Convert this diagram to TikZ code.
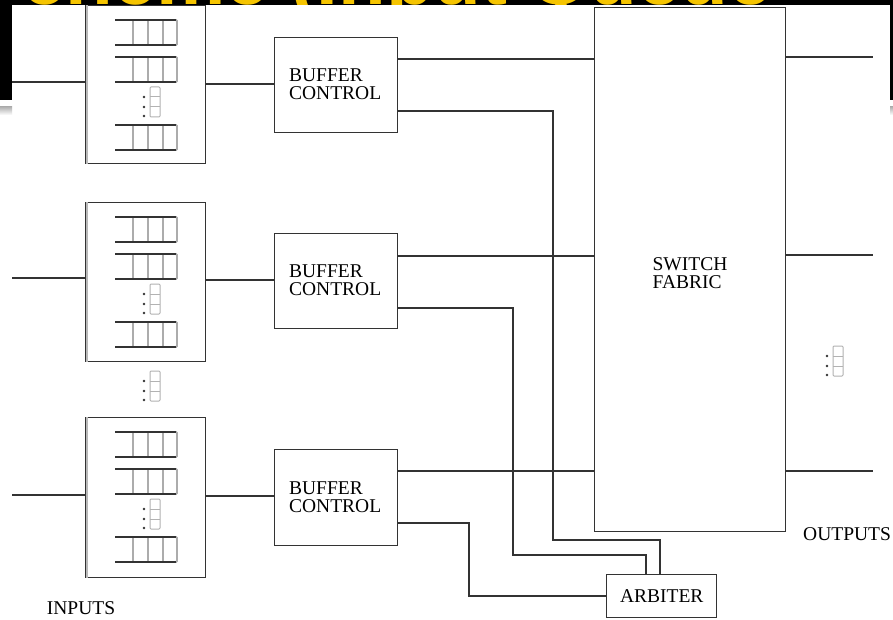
\documentclass[tikz,border=0pt]{standalone}
\usepackage{fontspec}
\setmainfont{Liberation Serif}
\newfontfamily\titlefont{Liberation Sans}
\begin{document}
\begin{tikzpicture}[x=1pt,y=-1pt,
  ln/.style={line width=1.4pt, draw=black!80},
  box/.style={draw=black!80, line width=1.4pt, fill=white, rectangle, inner sep=0pt, anchor=north west},
  lbl/.style={font=\fontsize{19.5}{18}\selectfont, align=left, inner sep=0pt},
  queue/.pic={
    \draw[gray!65, line width=1.8pt] (18,0)--(18,25) (33,0)--(33,25) (48,0)--(48,25);
    \draw[gray!65, line width=1.8pt, rounded corners=1pt] (60,0)--(62,0)--(62,25)--(60,25);
    \draw[black!80, line width=1.4pt] (0,0)--(61,0) (0,25)--(61,25);
  },
  miniq/.pic={
    \draw[gray!60, line width=1pt, rounded corners=1pt] (0,0) rectangle (10,30);
    \draw[gray!60, line width=1pt] (0,10)--(10,10) (0,20)--(10,20);
    \fill[black!80] (-6,10) circle (1.4) (-6,20) circle (1.4) (-6,29) circle (1.4);
  }]
\useasboundingbox (0,0) rectangle (893,620);
\fill[white] (0,0) rectangle (893,620);

% queue boxes
\node[box, minimum width=120pt, minimum height=158pt] (qb1) at (85,5) {};
\node[box, minimum width=120pt, minimum height=159pt] (qb2) at (85,202) {};
\node[box, minimum width=120pt, minimum height=160pt] (qb3) at (85,417) {};
\foreach \b in {qb1,qb2,qb3}{
  \draw[gray!55, line width=2.2pt] ([xshift=2pt]\b.north west) -- ([xshift=2pt]\b.south west);
}
\foreach \t in {5,202,417}{
  \pic at (115,\t+15) {queue};
  \pic at (115,\t+52) {queue};
  \pic at (150,\t+82) {miniq};
  \pic at (115,\t+120) {queue};
}
\pic at (150,371) {miniq};
\pic at (833,346) {miniq};

% buffer controls
\node[box, minimum width=123pt, minimum height=95pt] (bc1) at (274,37) {};
\node[box, minimum width=123pt, minimum height=95pt] (bc2) at (274,233) {};
\node[box, minimum width=123pt, minimum height=96pt] (bc3) at (274,449) {};
\foreach \b in {bc1,bc2,bc3}{
  \node[lbl] at ([xshift=-1pt,yshift=0.5pt]\b.center) {BUFFER\\CONTROL};
}

% switch fabric
\node[box, minimum width=191pt, minimum height=524pt] (fab) at (594,7) {};
\node[lbl] (fabl) at (690,273) {SWITCH\\FABRIC};

% arbiter
\node[box, minimum width=110pt, minimum height=43pt] (arb) at (606,574) {};
\node[lbl] (arbl) at (arb.center) {ARBITER};

% input lines
\coordinate (i1) at (12,82);
\coordinate (i2) at (12,278);
\coordinate (i3) at (12,495);
\draw[ln] (i1) -- (i1 -| qb1.west);
\draw[ln] (i2) -- (i2 -| qb2.west);
\draw[ln] (i3) -- (i3 -| qb3.west);

% queue boxes to buffer control
\coordinate (q1) at (205,84);
\coordinate (q2) at (205,280);
\coordinate (q3) at (205,496);
\draw[ln] (q1 -| qb1.east) -- (q1 -| bc1.west);
\draw[ln] (q2 -| qb2.east) -- (q2 -| bc2.west);
\draw[ln] (q3 -| qb3.east) -- (q3 -| bc3.west);

% buffer control to fabric
\coordinate (u1) at (400,59);
\coordinate (u2) at (400,256);
\coordinate (u3) at (400,471);
\draw[ln] (u1 -| bc1.east) -- (u1 -| fab.west);
\draw[ln] (u2 -| bc2.east) -- (u2 -| fab.west);
\draw[ln] (u3 -| bc3.east) -- (u3 -| fab.west);

% buffer control to arbiter
\coordinate (a1) at (553,111);
\coordinate (a1b) at (660,540);
\draw[ln] (a1 -| bc1.east) -- (a1) -- (a1 |- a1b) -- (a1b) -- (a1b |- arb.north);
\coordinate (a2) at (513,308);
\coordinate (a2b) at (646,555);
\draw[ln] (a2 -| bc2.east) -- (a2) -- (a2 |- a2b) -- (a2b) -- (a2b |- arb.north);
\coordinate (a3) at (469,523);
\coordinate (a3b) at (469,596);
\draw[ln] (a3 -| bc3.east) -- (a3) -- (a3b) -- (a3b -| arb.west);

% outputs
\coordinate (o1) at (873,57);
\coordinate (o2) at (873,255);
\coordinate (o3) at (873,471);
\draw[ln] (o1 -| fab.east) -- (o1);
\draw[ln] (o2 -| fab.east) -- (o2);
\draw[ln] (o3 -| fab.east) -- (o3);

% labels
\node[lbl, anchor=center] (inl) at (81,608) {INPUTS};
\node[lbl, anchor=west] (outl) at (803,534) {OUTPUTS};

% slide frame and clipped title
\fill[black] (0,0) rectangle (893,5);
\fill[black] (0,0) rectangle (12,100);
\fill[black] (890,0) rectangle (893,100);
\shade[top color=gray!60, bottom color=white] (0,107) rectangle (12,115);
\shade[top color=gray!60, bottom color=white] (890,107) rectangle (893,115);
\begin{scope}
  \clip (12,0) rectangle (890,5);
  \node[anchor=base west, inner sep=0pt, text={rgb,255:red,245;green,196;blue,0},
        font=\titlefont\bfseries\fontsize{78}{80}\selectfont] (title) at (22,4.5) {cheme (Input Queue};
\end{scope}
\end{tikzpicture}
\end{document}
